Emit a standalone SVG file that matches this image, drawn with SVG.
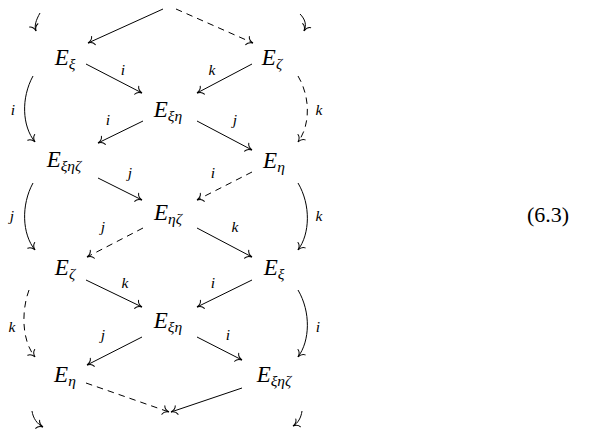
<svg xmlns="http://www.w3.org/2000/svg" width="614" height="429" viewBox="0 0 614 429" font-family="Liberation Serif, Times New Roman, serif">
<style>
.n{font-style:italic;font-size:23px;fill:#000;text-anchor:middle}
.s{font-size:15.5px}
.l{font-style:italic;font-size:15.5px;fill:#000;text-anchor:middle}
.eq{font-size:22px;fill:#000}
.a{fill:none;stroke:#000;stroke-width:1;marker-end:url(#h)}
.d{stroke-dasharray:6.5 5}
</style>
<defs>
<marker id="h" markerUnits="userSpaceOnUse" markerWidth="14" markerHeight="14" viewBox="-8 -7 10 14" refX="0" refY="0" orient="auto">
<path d="M-6,-4.5 C-5.2,-1.8 -2.4,-0.4 0,0 C-2.4,0.4 -5.2,1.8 -6,4.5" fill="none" stroke="#000" stroke-width="1" stroke-linecap="round"/>
</marker>
</defs>
<g id="connectors">
<path class="a" d="M163,9 L88,43"/>
<path class="a d" d="M176,9 L253,43"/>
<path class="a" d="M86,64 L142,93"/>
<path class="a" d="M252,64 L197,93"/>
<path class="a" d="M143,121 L98,143"/>
<path class="a" d="M197,121 L252,150"/>
<path class="a" d="M98,178 L142,200"/>
<path class="a d" d="M252,172 L197,200"/>
<path class="a d" d="M143,228 L87,257"/>
<path class="a" d="M197,228 L252,257"/>
<path class="a" d="M86,280 L142,307"/>
<path class="a" d="M252,280 L197,307"/>
<path class="a" d="M142,337 L87,365"/>
<path class="a" d="M197,337 L242,360"/>
<path class="a d" d="M86,383 L169,412"/>
<path class="a" d="M242,388 L171,412"/>
<path class="a" d="M33,76 C21,98 22,126 35,142"/>
<path class="a" d="M33,183 C21,205 22,234 35,250"/>
<path class="a d" d="M29,290 C21,312 22,341 35,357"/>
<path class="a d" d="M298,76 C311,98 310,126 298,142"/>
<path class="a" d="M298,183 C311,205 310,234 298,250"/>
<path class="a" d="M298,290 C311,312 310,341 298,357"/>
<path class="a" d="M40,13 C36,20 34,26 36,31"/>
<path class="a" d="M300,14 C305,19 307,25 304,31"/>
<path class="a" d="M32,411 C33,418 37,424 43,427"/>
<path class="a" d="M302,411 C301,418 298,423 293,426"/>
</g>
<g id="labels">
<text class="l" x="123" y="75">i</text>
<text class="l" x="212" y="75">k</text>
<text class="l" x="13" y="115">i</text>
<text class="l" x="319" y="115">k</text>
<text class="l" x="108" y="125">i</text>
<text class="l" x="235" y="125">j</text>
<text class="l" x="130" y="178">j</text>
<text class="l" x="213" y="178">i</text>
<text class="l" x="12" y="221">j</text>
<text class="l" x="319" y="221">k</text>
<text class="l" x="103" y="232">j</text>
<text class="l" x="235" y="232">k</text>
<text class="l" x="125" y="288">k</text>
<text class="l" x="213" y="288">i</text>
<text class="l" x="12" y="332">k</text>
<text class="l" x="318" y="332">i</text>
<text class="l" x="103" y="340">j</text>
<text class="l" x="228" y="340">i</text>
</g>
<g id="n1"><text class="n" x="65" y="65">E<tspan class="s" dy="4">ξ</tspan></text></g>
<g id="n2"><text class="n" x="272" y="65">E<tspan class="s" dy="4">ζ</tspan></text></g>
<g id="n3"><text class="n" x="168" y="117">E<tspan class="s" dy="4">ξη</tspan></text></g>
<g id="n4"><text class="n" x="64" y="167">E<tspan class="s" dy="4">ξηζ</tspan></text></g>
<g id="n5"><text class="n" x="274" y="168">E<tspan class="s" dy="4">η</tspan></text></g>
<g id="n6"><text class="n" x="168" y="220">E<tspan class="s" dy="4">ηζ</tspan></text></g>
<g id="n7"><text class="n" x="65" y="275">E<tspan class="s" dy="4">ζ</tspan></text></g>
<g id="n8"><text class="n" x="274" y="275">E<tspan class="s" dy="4">ξ</tspan></text></g>
<g id="n9"><text class="n" x="168" y="328">E<tspan class="s" dy="4">ξη</tspan></text></g>
<g id="n10"><text class="n" x="65" y="382">E<tspan class="s" dy="4">η</tspan></text></g>
<g id="n11"><text class="n" x="274" y="382">E<tspan class="s" dy="4">ξηζ</tspan></text></g>
<text class="eq" x="527" y="222">(6.3)</text>
</svg>
